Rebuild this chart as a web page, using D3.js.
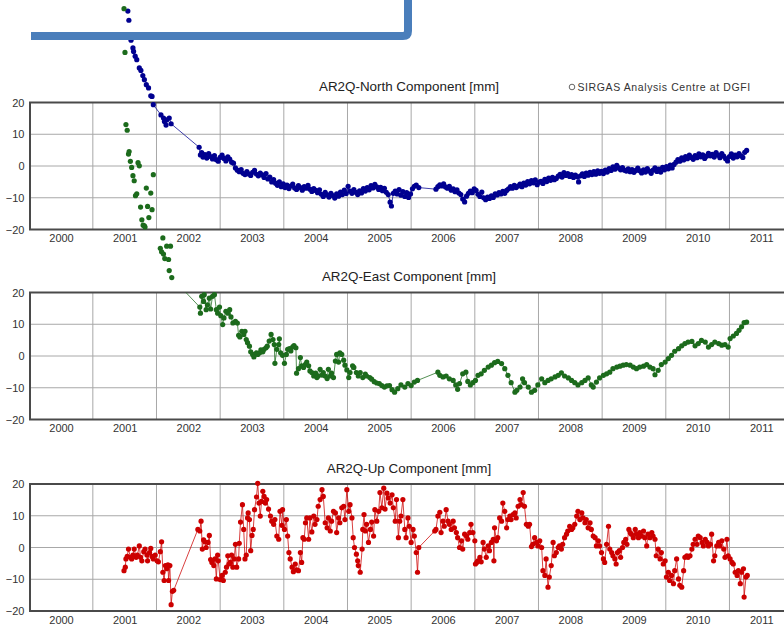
<!DOCTYPE html>
<html>
<head>
<meta charset="utf-8">
<script src="https://cdn.jsdelivr.net/npm/d3@7"></script>
<style>
  body { margin: 0; background: #fff; }
  svg { display: block; font-family: "Liberation Sans", Arial, sans-serif; }
</style>
</head>
<body>
<div id="chart"></div>
<script>
// Tick labels
var years = [2000, 2001, 2002, 2003, 2004, 2005, 2006, 2007, 2008, 2009, 2010, 2011];
var yTicks = [20, 10, 0, -10, -20];
var titles = ["AR2Q-North Component [mm]", "AR2Q-East Component [mm]", "AR2Q-Up Component [mm]"];
var legendText = "SIRGAS Analysis Centre at DGFI";

// Weekly solutions [year, mm]
var north = [
  [2001.05,48.8],[2001.066,45.9],[2001.10,39.6],[2001.13,37.2],[2001.14,36.1],[2001.165,34.6],[2001.19,33.5],
  [2001.23,30.9],[2001.255,30.1],[2001.285,28.5],[2001.31,27.2],[2001.34,25.6],[2001.375,24.6],[2001.41,22.1],
  [2001.43,21.9],[2001.45,19.3],[2001.57,16.1],[2001.61,15.1],[2001.625,14.0],[2001.65,12.9],[2001.66,14.5],
  [2001.70,15.1],[2001.73,13.3],
  [2002.17,5.9],[2002.19,3.5],[2002.21,4.2],[2002.23,2.8],[2002.26,3.6],[2002.29,2.5],[2002.32,3.9],[2002.35,3.0],
  [2002.38,2.2],[2002.41,3.3],[2002.44,2.0],[2002.47,1.5],[2002.50,2.7],[2002.53,3.4],[2002.56,2.4],[2002.59,1.6],
  [2002.62,2.9],[2002.65,2.2],[2002.68,1.2],[2002.71,0.9],[2002.74,-0.6],[2002.77,-1.3],[2002.80,-1.8],[2002.83,-1.1],
  [2002.86,-2.3],[2002.89,-2.7],[2002.92,-1.8],[2002.95,-2.5],[2002.98,-3.0],[2003.01,-2.0],[2003.04,-1.4],[2003.07,-2.6],
  [2003.10,-3.1],[2003.13,-2.2],[2003.16,-2.8],[2003.19,-3.6],[2003.22,-2.4],[2003.25,-4.1],[2003.28,-3.5],[2003.31,-5.0],
  [2003.34,-4.3],[2003.37,-5.4],[2003.40,-6.1],[2003.43,-5.0],[2003.46,-6.5],[2003.49,-5.6],[2003.52,-6.8],[2003.55,-6.0],
  [2003.58,-7.1],[2003.61,-6.3],[2003.64,-5.7],[2003.67,-6.9],[2003.70,-7.4],[2003.73,-6.2],[2003.76,-6.8],[2003.79,-7.6],
  [2003.82,-6.5],[2003.85,-7.0],[2003.88,-6.1],[2003.91,-7.3],[2003.94,-8.0],[2003.97,-7.1],[2004.00,-7.7],[2004.03,-8.4],
  [2004.06,-7.5],[2004.09,-8.9],[2004.12,-9.6],[2004.15,-8.3],[2004.18,-9.1],[2004.21,-9.8],[2004.24,-8.6],[2004.27,-9.3],
  [2004.30,-10.1],[2004.33,-8.8],[2004.36,-9.5],[2004.39,-8.2],[2004.42,-9.0],[2004.45,-7.6],[2004.48,-8.7],[2004.51,-6.4],
  [2004.54,-7.9],[2004.57,-8.6],[2004.60,-7.4],[2004.63,-8.3],[2004.66,-9.0],[2004.69,-7.8],[2004.72,-8.5],[2004.75,-7.1],
  [2004.78,-7.9],[2004.81,-6.8],[2004.84,-7.5],[2004.87,-6.2],[2004.90,-6.9],[2004.93,-5.8],[2004.96,-6.6],[2004.99,-7.4],
  [2005.02,-6.7],[2005.05,-7.8],[2005.08,-7.0],[2005.11,-8.3],[2005.14,-9.0],[2005.17,-11.4],[2005.19,-12.6],[2005.22,-8.6],
  [2005.25,-7.9],[2005.28,-8.8],[2005.31,-7.4],[2005.34,-9.2],[2005.37,-8.1],[2005.40,-9.6],[2005.43,-8.4],[2005.46,-9.9],
  [2005.49,-8.8],[2005.52,-7.2],[2005.55,-6.4],[2005.58,-6.0],[2005.62,-6.8],
  [2005.89,-7.3],[2005.92,-6.5],[2005.95,-5.9],[2005.98,-6.3],[2006.01,-5.6],[2006.04,-6.6],[2006.07,-7.0],[2006.10,-6.4],
  [2006.13,-7.6],[2006.16,-7.2],[2006.19,-8.1],[2006.22,-7.5],[2006.25,-8.5],[2006.28,-9.0],[2006.31,-10.4],[2006.34,-11.3],
  [2006.37,-9.5],[2006.40,-8.6],[2006.43,-7.9],[2006.46,-8.4],[2006.49,-7.2],[2006.52,-7.7],[2006.55,-8.9],[2006.58,-9.6],
  [2006.61,-8.2],[2006.64,-10.0],[2006.67,-10.6],[2006.70,-9.8],[2006.73,-10.2],[2006.76,-9.4],[2006.79,-9.9],[2006.82,-8.8],
  [2006.85,-9.1],[2006.88,-8.4],[2006.91,-8.8],[2006.94,-8.0],[2006.97,-8.6],[2007.00,-7.7],[2007.03,-7.2],[2007.06,-6.5],
  [2007.09,-7.0],[2007.12,-6.1],[2007.15,-6.8],[2007.18,-6.3],[2007.21,-5.7],[2007.24,-6.5],[2007.27,-5.4],[2007.30,-6.0],
  [2007.33,-4.9],[2007.36,-5.6],[2007.39,-4.6],[2007.42,-5.3],[2007.45,-4.4],[2007.48,-5.9],[2007.51,-5.1],[2007.54,-4.8],
  [2007.57,-5.5],[2007.60,-4.2],[2007.63,-4.9],[2007.66,-3.8],[2007.69,-4.5],[2007.72,-3.6],[2007.75,-4.3],[2007.78,-3.9],
  [2007.81,-3.2],[2007.84,-2.6],[2007.87,-3.5],[2007.90,-2.1],[2007.93,-3.0],[2007.96,-2.4],[2007.99,-3.3],[2008.02,-2.7],
  [2008.05,-3.6],[2008.08,-2.9],[2008.11,-3.4],[2008.13,-5.0],[2008.16,-3.1],[2008.19,-2.5],[2008.22,-3.3],[2008.25,-2.2],
  [2008.28,-2.9],[2008.31,-2.0],[2008.34,-2.7],[2008.37,-1.8],[2008.40,-2.6],[2008.43,-1.5],[2008.46,-2.3],[2008.49,-1.7],
  [2008.52,-2.4],[2008.55,-1.3],[2008.58,-1.9],[2008.61,-0.8],[2008.64,-1.4],[2008.67,-0.3],[2008.70,-1.0],[2008.73,0.2],
  [2008.76,-0.6],[2008.79,-1.2],[2008.82,-0.5],[2008.85,-1.3],[2008.88,-1.6],[2008.91,-0.9],[2008.94,-1.8],[2008.97,-1.1],
  [2009.00,-2.0],[2009.03,-1.4],[2009.06,-0.7],[2009.09,-1.5],[2009.12,-2.2],[2009.15,-1.2],[2009.18,-1.9],[2009.21,-0.8],
  [2009.24,-1.6],[2009.27,-2.3],[2009.30,-1.3],[2009.33,-0.6],[2009.36,-1.7],[2009.39,-1.0],[2009.42,-1.9],[2009.45,-0.4],
  [2009.48,-1.2],[2009.51,-0.2],[2009.54,-0.9],[2009.57,0.3],[2009.60,-0.6],[2009.63,0.5],[2009.66,1.2],[2009.69,2.0],
  [2009.72,1.5],[2009.75,2.6],[2009.78,1.9],[2009.81,3.0],[2009.84,2.3],[2009.87,3.4],[2009.90,2.7],[2009.93,2.1],
  [2009.96,3.3],[2009.99,2.6],[2010.02,3.8],[2010.05,2.9],[2010.08,3.5],[2010.11,2.4],[2010.14,3.1],[2010.17,4.0],
  [2010.20,3.2],[2010.23,3.7],[2010.26,2.8],[2010.29,4.2],[2010.32,3.4],[2010.35,2.6],[2010.38,3.9],[2010.41,3.1],
  [2010.44,2.3],[2010.47,1.6],[2010.50,3.0],[2010.53,3.8],[2010.56,2.5],[2010.59,3.4],[2010.62,2.9],[2010.65,3.9],
  [2010.68,3.2],[2010.71,2.7],[2010.74,4.3],[2010.77,4.9]
];

var east = [
  [2000.99,109.4],[2001.005,95.6],[2001.02,72.9],[2001.04,71.1],[2001.06,63.6],[2001.07,64.4],[2001.09,61.3],
  [2001.11,59.4],[2001.13,56.8],[2001.15,55.2],[2001.17,50.5],[2001.19,51.1],[2001.21,60.9],[2001.23,59.9],
  [2001.25,46.9],[2001.27,42.9],[2001.29,41.2],[2001.31,41.0],[2001.32,40.6],[2001.34,52.9],[2001.36,47.1],
  [2001.38,43.6],[2001.41,51.3],[2001.43,46.1],[2001.45,57.1],[2001.56,33.9],[2001.58,32.8],[2001.60,37.2],
  [2001.61,32.1],[2001.63,30.7],[2001.66,34.6],[2001.69,30.4],[2001.70,26.9],[2001.72,34.6],[2001.74,24.7],
  [2002.18,15.4],[2002.19,13.5],[2002.21,18.8],[2002.24,17.2],[2002.25,19.3],[2002.28,14.6],[2002.30,16.1],[2002.33,18.2],
  [2002.35,14.8],[2002.38,18.8],[2002.41,19.3],[2002.44,14.6],[2002.46,13.5],[2002.49,15.4],[2002.51,12.7],[2002.54,9.9],
  [2002.56,12.0],[2002.59,14.1],[2002.62,13.5],[2002.65,14.6],[2002.67,12.3],[2002.70,10.4],[2002.74,10.9],[2002.77,10.4],
  [2002.79,6.5],[2002.81,6.0],[2002.84,7.8],[2002.87,6.8],[2002.89,7.8],[2002.91,5.2],[2002.93,4.2],[2002.96,3.1],
  [2002.98,1.3],[2003.01,0.5],[2003.03,-0.3],[2003.07,1.0],[2003.09,0.5],[2003.12,1.0],[2003.14,1.9],[2003.17,1.3],
  [2003.19,2.1],[2003.22,2.6],[2003.24,3.1],[2003.27,4.7],[2003.30,6.8],[2003.33,5.2],[2003.35,3.6],[2003.36,-2.3],
  [2003.39,2.1],[2003.42,3.6],[2003.43,5.4],[2003.45,1.0],[2003.48,0.2],[2003.51,-2.3],[2003.54,0.5],[2003.56,2.1],
  [2003.59,2.3],[2003.61,1.6],[2003.64,2.9],[2003.66,3.3],[2003.69,2.6],[2003.70,-5.4],[2003.73,-4.0],[2003.76,-0.5],
  [2003.78,-3.1],[2003.81,-3.6],[2003.84,-2.6],[2003.86,-1.9],[2003.89,-3.1],[2003.91,-4.7],[2003.94,-5.2],[2003.97,-6.3],
  [2004.00,-5.4],[2004.02,-6.8],[2004.04,-6.3],[2004.07,-4.2],[2004.10,-6.0],[2004.12,-5.2],[2004.15,-6.3],[2004.18,-7.1],
  [2004.20,-4.2],[2004.23,-6.3],[2004.25,-5.4],[2004.28,-6.8],[2004.31,-1.6],[2004.33,0.5],[2004.36,-1.9],[2004.38,1.0],
  [2004.41,0.5],[2004.44,-1.3],[2004.46,-2.9],[2004.49,-4.4],[2004.52,-6.8],[2004.54,-5.2],[2004.58,-3.1],[2004.60,-3.6],
  [2004.64,-5.2],[2004.67,-6.3],[2004.70,-5.2],[2004.74,-6.8],[2004.78,-5.7],[2004.80,-6.3],[2004.85,-6.8],[2004.88,-7.3],
  [2004.92,-8.1],[2004.96,-8.5],[2005.00,-8.7],[2005.04,-9.3],[2005.08,-9.8],[2005.12,-9.4],[2005.16,-9.3],[2005.20,-10.6],
  [2005.24,-11.4],[2005.29,-10.3],[2005.34,-9.1],[2005.40,-9.8],[2005.45,-8.7],[2005.50,-9.3],[2005.55,-8.2],[2005.60,-7.7],
  [2005.92,-5.1],[2005.95,-6.1],[2006.00,-6.6],[2006.05,-6.3],[2006.10,-7.2],[2006.16,-7.7],[2006.20,-9.1],[2006.23,-10.5],
  [2006.26,-8.7],[2006.31,-5.6],[2006.36,-5.1],[2006.39,-8.0],[2006.43,-9.1],[2006.47,-8.4],[2006.51,-7.7],[2006.55,-6.1],
  [2006.60,-5.6],[2006.65,-4.5],[2006.71,-3.5],[2006.76,-2.9],[2006.81,-2.1],[2006.86,-1.7],[2006.92,-2.4],[2006.97,-4.0],
  [2007.02,-6.1],[2007.07,-8.4],[2007.13,-11.4],[2007.16,-10.8],[2007.21,-9.8],[2007.25,-7.2],[2007.28,-8.4],[2007.34,-9.8],
  [2007.39,-11.4],[2007.44,-10.8],[2007.49,-9.1],[2007.55,-7.2],[2007.60,-8.4],[2007.65,-7.7],[2007.70,-7.2],[2007.76,-6.6],
  [2007.81,-6.1],[2007.86,-5.3],[2007.91,-6.3],[2007.97,-6.9],[2008.02,-7.7],[2008.07,-8.4],[2008.12,-9.1],[2008.18,-8.4],
  [2008.23,-7.7],[2008.28,-6.9],[2008.33,-9.1],[2008.36,-9.8],[2008.41,-8.2],[2008.46,-6.9],[2008.52,-6.1],[2008.57,-5.6],
  [2008.62,-5.1],[2008.67,-4.0],[2008.73,-3.5],[2008.78,-3.2],[2008.83,-2.9],[2008.88,-2.7],[2008.94,-2.9],[2008.99,-3.5],
  [2009.04,-4.0],[2009.09,-3.5],[2009.15,-3.2],[2009.20,-2.7],[2009.25,-3.5],[2009.30,-4.0],[2009.33,-5.9],[2009.38,-4.5],
  [2009.43,-2.7],[2009.49,-1.9],[2009.54,-0.8],[2009.59,0.2],[2009.64,1.5],[2009.70,2.3],[2009.75,3.2],[2009.80,3.9],
  [2009.85,4.4],[2009.91,4.6],[2009.96,3.2],[2010.01,3.9],[2010.06,4.9],[2010.12,4.4],[2010.17,2.8],[2010.22,3.6],
  [2010.27,4.4],[2010.33,3.9],[2010.38,3.4],[2010.43,3.6],[2010.48,2.8],[2010.51,5.5],[2010.56,6.3],[2010.61,7.1],
  [2010.65,8.1],[2010.69,9.2],[2010.73,10.5],[2010.77,10.7]
];

var up = [
  [2000.99,-7.3],[2001.01,-6.2],[2001.02,-3.6],[2001.04,-2.8],[2001.06,-0.5],[2001.09,-3.1],[2001.11,-3.6],[2001.13,-2.4],
  [2001.15,-0.5],[2001.18,-3.1],[2001.20,-2.4],[2001.23,0.5],[2001.25,-3.1],[2001.27,-4.2],[2001.30,-1.3],[2001.32,-0.5],
  [2001.35,-2.4],[2001.36,-4.2],[2001.39,-1.6],[2001.41,-0.3],[2001.43,-2.8],[2001.45,-3.6],[2001.48,-2.4],[2001.51,-4.2],
  [2001.53,-4.5],[2001.56,-1.3],[2001.58,1.8],[2001.60,-7.8],[2001.62,-10.4],[2001.64,-5.7],[2001.66,-6.7],[2001.68,-5.5],
  [2001.69,-10.4],[2001.71,-5.7],[2001.73,-18.0],[2001.75,-13.8],[2001.77,-13.5],
  [2002.15,5.7],[2002.18,5.2],[2002.20,8.3],[2002.22,-0.5],[2002.24,2.4],[2002.26,1.8],[2002.28,0.0],[2002.31,1.6],
  [2002.33,3.8],[2002.35,-3.8],[2002.37,-4.7],[2002.40,-5.7],[2002.42,-3.6],[2002.44,-9.9],[2002.46,-2.4],[2002.47,-4.2],
  [2002.50,-10.1],[2002.53,-8.8],[2002.55,-10.4],[2002.58,-7.8],[2002.60,-6.2],[2002.62,-2.6],[2002.64,-5.2],[2002.66,-4.7],
  [2002.68,-2.4],[2002.70,-6.2],[2002.72,-3.6],[2002.74,1.0],[2002.76,-6.2],[2002.79,-3.6],[2002.80,1.3],[2002.82,8.0],
  [2002.85,13.5],[2002.87,5.7],[2002.89,-3.6],[2002.91,-2.4],[2002.93,9.3],[2002.94,10.9],[2002.96,8.8],[2002.98,-1.0],
  [2003.00,3.8],[2003.02,5.7],[2003.04,11.9],[2003.07,15.9],[2003.09,20.2],[2003.11,14.0],[2003.13,9.9],[2003.15,14.5],
  [2003.17,17.7],[2003.19,16.1],[2003.21,14.0],[2003.23,15.1],[2003.26,12.1],[2003.29,9.9],[2003.31,8.3],[2003.34,7.3],
  [2003.36,8.8],[2003.39,3.6],[2003.42,2.6],[2003.44,11.4],[2003.47,7.0],[2003.48,11.9],[2003.51,5.7],[2003.54,8.8],
  [2003.56,3.6],[2003.58,-1.6],[2003.60,-3.6],[2003.63,-6.2],[2003.65,-7.6],[2003.68,-5.2],[2003.70,-7.0],[2003.73,-7.3],
  [2003.76,-1.6],[2003.78,-4.7],[2003.80,3.1],[2003.82,2.6],[2003.84,7.8],[2003.86,9.3],[2003.89,2.6],[2003.91,9.3],
  [2003.94,4.9],[2003.97,9.9],[2003.99,7.3],[2004.02,8.8],[2004.04,13.0],[2004.07,15.1],[2004.10,18.2],[2004.12,16.1],
  [2004.15,7.8],[2004.18,6.2],[2004.20,9.3],[2004.23,5.2],[2004.25,8.3],[2004.28,11.4],[2004.31,10.9],[2004.33,4.7],
  [2004.36,9.3],[2004.38,7.8],[2004.41,12.5],[2004.44,13.0],[2004.46,8.8],[2004.49,18.2],[2004.52,11.4],[2004.54,13.5],
  [2004.57,9.3],[2004.59,3.1],[2004.61,0.0],[2004.64,-2.1],[2004.66,-4.2],[2004.67,-5.7],[2004.70,-7.8],[2004.73,-0.5],
  [2004.74,5.7],[2004.76,10.4],[2004.78,5.2],[2004.80,7.3],[2004.83,1.6],[2004.86,5.7],[2004.88,8.0],[2004.91,3.6],
  [2004.93,11.9],[2004.96,8.3],[2004.99,11.4],[2005.01,17.3],[2005.04,12.5],[2005.07,18.7],[2005.09,12.1],[2005.12,17.1],
  [2005.14,15.6],[2005.17,14.0],[2005.20,16.6],[2005.22,12.5],[2005.25,8.3],[2005.27,15.1],[2005.30,3.1],[2005.32,8.3],
  [2005.34,9.9],[2005.37,15.1],[2005.40,5.7],[2005.42,3.1],[2005.45,9.3],[2005.47,6.7],[2005.50,1.6],[2005.53,5.7],
  [2005.55,3.6],[2005.58,-1.6],[2005.60,-7.8],[2005.62,0.0],
  [2005.87,5.2],[2005.89,5.7],[2005.92,9.9],[2005.95,11.1],[2005.97,4.7],[2006.00,8.3],[2006.02,6.7],[2006.05,11.9],
  [2006.08,8.3],[2006.10,7.3],[2006.13,5.7],[2006.16,8.3],[2006.18,6.2],[2006.21,4.7],[2006.23,3.1],[2006.26,0.0],
  [2006.29,2.1],[2006.31,-0.5],[2006.34,4.2],[2006.37,3.6],[2006.39,2.6],[2006.42,4.7],[2006.44,7.3],[2006.47,4.7],
  [2006.50,2.1],[2006.51,-5.2],[2006.53,-4.7],[2006.55,-4.2],[2006.58,-3.1],[2006.60,-4.5],[2006.63,1.6],[2006.65,-0.5],
  [2006.68,-3.1],[2006.71,0.5],[2006.73,-1.0],[2006.76,1.6],[2006.79,2.6],[2006.80,-4.2],[2006.81,6.2],[2006.84,2.1],
  [2006.86,3.1],[2006.89,9.3],[2006.92,8.3],[2006.94,14.0],[2006.97,11.4],[2007.00,6.2],[2007.02,8.8],[2007.05,9.9],
  [2007.07,8.8],[2007.10,10.4],[2007.13,10.9],[2007.15,9.3],[2007.18,13.0],[2007.21,15.1],[2007.23,13.5],[2007.26,17.3],
  [2007.28,13.0],[2007.31,7.3],[2007.34,6.7],[2007.36,7.3],[2007.39,0.3],[2007.41,1.0],[2007.44,3.1],[2007.47,1.6],
  [2007.49,0.5],[2007.52,2.1],[2007.55,0.0],[2007.57,-7.3],[2007.60,-8.8],[2007.62,-3.6],[2007.65,-12.5],[2007.67,-9.3],
  [2007.70,-5.7],[2007.73,1.6],[2007.75,-2.6],[2007.78,-1.6],[2007.81,0.0],[2007.83,0.5],[2007.86,-0.5],[2007.88,1.0],
  [2007.91,3.1],[2007.94,4.2],[2007.96,5.2],[2007.99,6.7],[2008.02,5.7],[2008.04,6.2],[2008.07,7.3],[2008.10,9.9],
  [2008.12,11.4],[2008.15,8.8],[2008.18,10.9],[2008.20,9.3],[2008.23,7.8],[2008.25,8.8],[2008.28,6.2],[2008.31,7.8],
  [2008.33,5.7],[2008.36,3.6],[2008.39,3.1],[2008.41,0.5],[2008.44,2.1],[2008.46,0.5],[2008.49,-1.6],[2008.52,-3.6],
  [2008.54,-4.7],[2008.57,1.0],[2008.60,6.7],[2008.62,-0.5],[2008.65,-1.6],[2008.67,-2.6],[2008.70,-3.6],[2008.72,-5.2],
  [2008.74,-1.6],[2008.77,-1.0],[2008.79,-3.1],[2008.82,0.0],[2008.84,1.6],[2008.87,2.6],[2008.89,1.0],[2008.92,5.7],
  [2008.94,4.7],[2008.96,4.2],[2008.99,3.1],[2009.02,5.7],[2009.04,4.2],[2009.07,3.1],[2009.09,4.7],[2009.12,3.6],
  [2009.15,5.2],[2009.17,3.1],[2009.20,0.5],[2009.22,4.2],[2009.25,3.1],[2009.28,4.7],[2009.30,3.6],[2009.33,2.6],
  [2009.35,-2.6],[2009.38,-0.5],[2009.41,-3.6],[2009.43,-1.6],[2009.46,-5.2],[2009.49,-4.2],[2009.51,-9.3],[2009.54,-7.8],
  [2009.56,-10.4],[2009.59,-8.8],[2009.62,-11.4],[2009.64,-7.3],[2009.67,-3.6],[2009.70,-9.9],[2009.72,-11.9],[2009.75,-12.5],
  [2009.78,-7.3],[2009.80,-3.1],[2009.83,-2.6],[2009.85,-3.1],[2009.88,-2.6],[2009.91,-0.5],[2009.93,1.0],[2009.96,2.6],
  [2009.99,1.0],[2010.01,3.6],[2010.04,3.1],[2010.07,1.6],[2010.09,0.5],[2010.12,2.6],[2010.15,1.6],[2010.17,0.5],
  [2010.20,1.0],[2010.22,4.2],[2010.25,-4.2],[2010.27,-2.6],[2010.30,0.5],[2010.33,1.6],[2010.35,0.5],[2010.38,2.1],
  [2010.41,-0.5],[2010.43,-3.1],[2010.46,2.6],[2010.48,-2.6],[2010.51,-3.6],[2010.54,-4.7],[2010.56,-5.2],[2010.59,-7.8],
  [2010.62,-8.8],[2010.64,-7.3],[2010.67,-11.4],[2010.69,-7.8],[2010.72,-6.7],[2010.73,-15.6],[2010.76,-9.3],[2010.78,-8.8]
];

var seriesList = [north, east, up];
var seriesColors = ["#000090", "#1c6b1c", "#cc0000"];

// Layout
var fullWidth = 784, fullHeight = 626;
var frameLeft = 30, frameRight = 800;
var panelTops = [102.5, 292.5, 484];
var panelHeight = 127;

var svg = d3.select("#chart").append("svg")
    .attr("width", fullWidth)
    .attr("height", fullHeight);

// Year labels sit at Jan 1, grid lines at mid-year
var x = d3.scaleLinear().domain([2000, 2011]).range([61, 761.3]);

var yScales = panelTops.map(function(top) {
    return d3.scaleLinear().domain([-20, 20]).range([top + panelHeight, top]);
});

// Clip rectangles: the connecting lines stay inside their panel, the dots do not
var defs = svg.append("defs");
panelTops.forEach(function(top, i) {
    defs.append("clipPath")
        .attr("id", "clip" + i)
        .append("rect")
        .attr("x", frameLeft)
        .attr("y", top)
        .attr("width", frameRight - frameLeft)
        .attr("height", panelHeight);
});

// Frames, grids, axes, titles
panelTops.forEach(function(top, i) {
    var y = yScales[i];
    var g = svg.append("g");

    g.selectAll(".hgrid")
        .data(yTicks.filter(function(d) { return Math.abs(d) < 20; }))
        .enter().append("line")
        .attr("x1", frameLeft).attr("x2", frameRight)
        .attr("y1", function(d) { return y(d); })
        .attr("y2", function(d) { return y(d); })
        .attr("stroke", "#a8a8a8").attr("stroke-width", 1);

    g.selectAll(".vgrid")
        .data(years)
        .enter().append("line")
        .attr("x1", function(d) { return x(d + 0.5); })
        .attr("x2", function(d) { return x(d + 0.5); })
        .attr("y1", top).attr("y2", top + panelHeight)
        .attr("stroke", "#a8a8a8").attr("stroke-width", 1);

    // frame (top, bottom, left)
    g.append("path")
        .attr("d", "M" + frameRight + "," + top + "H" + frameLeft + "V" + (top + panelHeight) + "H" + frameRight)
        .attr("fill", "none")
        .attr("stroke", "#4a4a4a")
        .attr("stroke-width", 2);

    // X axis labels
    var xAxis = g.append("g")
        .attr("transform", "translate(0," + (top + panelHeight) + ")")
        .call(d3.axisBottom(x).tickValues(years).tickFormat(d3.format("d")).tickSize(0).tickPadding(5));
    xAxis.select(".domain").remove();
    xAxis.selectAll("text")
        .attr("font-size", 11)
        .attr("font-family", "Liberation Sans, Arial, sans-serif")
        .attr("fill", "#333");

    // Y axis labels
    var yAxis = g.append("g")
        .attr("transform", "translate(" + frameLeft + ",0)")
        .call(d3.axisLeft(y).tickValues(yTicks).tickSize(0).tickPadding(5.5));
    yAxis.select(".domain").remove();
    yAxis.selectAll("text")
        .attr("font-size", 11)
        .attr("font-family", "Liberation Sans, Arial, sans-serif")
        .attr("fill", "#333");

    g.append("text")
        .attr("x", 409)
        .attr("y", top - 11.5)
        .attr("text-anchor", "middle")
        .attr("font-size", 13.4)
        .attr("fill", "#222")
        .text(titles[i]);
});

// Legend on the first panel
svg.append("circle")
    .attr("cx", 572).attr("cy", 87)
    .attr("r", 2.8)
    .attr("fill", "none")
    .attr("stroke", "#555")
    .attr("stroke-width", 0.9);
svg.append("text")
    .attr("x", 577.5).attr("y", 90.8)
    .attr("font-size", 10.5)
    .attr("letter-spacing", 0.6)
    .attr("fill", "#333")
    .text(legendText);

// Series: thin connecting line (clipped) plus dots (not clipped)
seriesList.forEach(function(data, i) {
    var y = yScales[i];
    var line = d3.line()
        .x(function(d) { return x(d[0]); })
        .y(function(d) { return y(d[1]); });

    svg.append("path")
        .datum(data)
        .attr("d", line)
        .attr("clip-path", "url(#clip" + i + ")")
        .attr("fill", "none")
        .attr("stroke", seriesColors[i])
        .attr("stroke-opacity", 0.75)
        .attr("stroke-width", 1);

    svg.append("g").selectAll("circle")
        .data(data)
        .enter().append("circle")
        .attr("cx", function(d) { return x(d[0]); })
        .attr("cy", function(d) { return y(d[1]); })
        .attr("r", 2.6)
        .attr("fill", seriesColors[i]);
});

// Blue box corner overlapping the top of the plot
svg.append("path")
    .attr("d", "M31,36H403Q408,36 408,31V-10")
    .attr("fill", "none")
    .attr("stroke", "#4a7ebb")
    .attr("stroke-width", 8);
</script>
</body>
</html>
